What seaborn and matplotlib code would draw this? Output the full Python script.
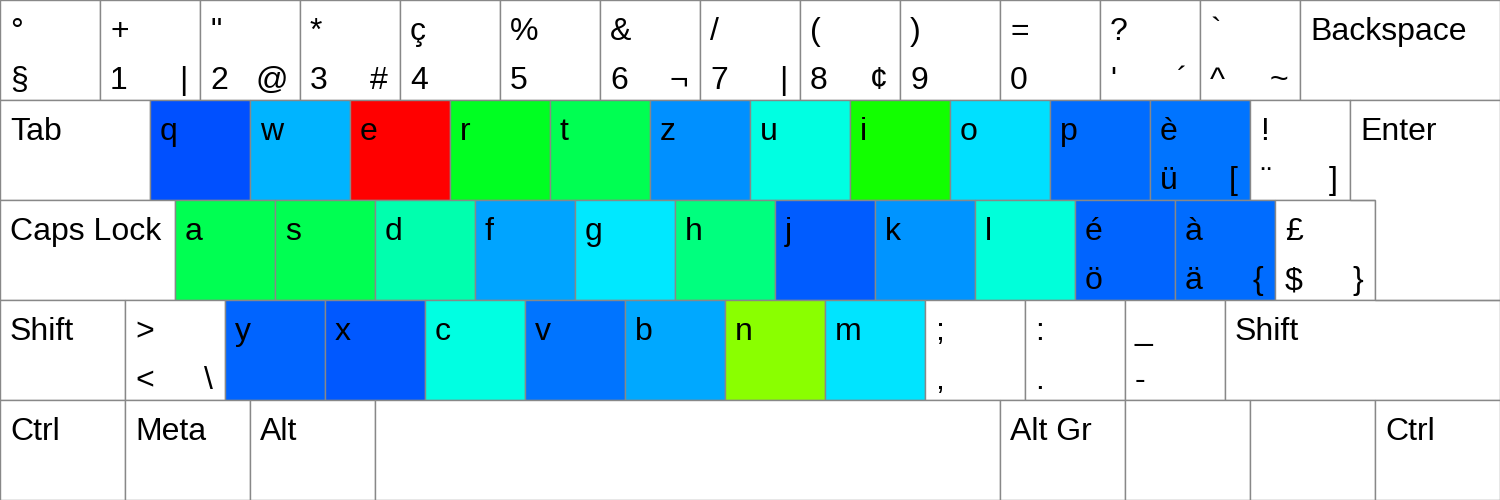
import numpy as np
import matplotlib
matplotlib.use("Agg")
import matplotlib.pyplot as plt
from matplotlib.colors import ListedColormap, Normalize, hsv_to_rgb
import seaborn as sns

# ---------------- data ----------------
# key widths per row (1 unit = one standard key)
row0_widths = [1] * 13 + [2]
row1_widths = [1.5] + [1] * 12 + [1.5]
row2_widths = [1.75] + [1] * 12 + [1.25]
row3_widths = [1.25] + [1] * 11 + [2.75]
row4_widths = [1.25, 1.25, 1.25, 6.25, 1.25, 1.25, 1.25, 1.25]

row0_top = ["°", "+", "\"", "*", "ç", "%", "&", "/", "(", ")", "=", "?", "`", "Backspace"]
row0_bl = ["§", "1", "2", "3", "4", "5", "6", "7", "8", "9", "0", "'", "^", ""]
row0_br = ["", "|", "@", "#", "", "", "¬", "|", "¢", "", "", "´", "~", ""]

row1_top = ["Tab", "q", "w", "e", "r", "t", "z", "u", "i", "o", "p", "è", "!", "Enter"]
row1_bl = [""] * 11 + ["ü", "¨", ""]
row1_br = [""] * 11 + ["[", "]", ""]

row2_top = ["Caps Lock", "a", "s", "d", "f", "g", "h", "j", "k", "l", "é", "à", "£", ""]
row2_bl = [""] * 10 + ["ö", "ä", "$", ""]
row2_br = [""] * 11 + ["{", "}", ""]

row3_top = ["Shift", ">", "y", "x", "c", "v", "b", "n", "m", ";", ":", "_", "Shift"]
row3_bl = ["", "<", "", "", "", "", "", "", "", ",", ".", "-", ""]
row3_br = ["", "\\"] + [""] * 11

row4_top = ["Ctrl", "Meta", "Alt", "", "Alt Gr", "", "", "Ctrl"]
row4_bl = [""] * 8
row4_br = [""] * 8

# relative letter frequency score (0 = rare/blue ... 1 = most frequent/red)
letters = ["q", "w", "e", "r", "t", "z", "u", "i", "o", "p", "è",
           "a", "s", "d", "f", "g", "h", "j", "k", "l", "é", "à",
           "y", "x", "c", "v", "b", "n", "m"]
scores = [0.079, 0.179, 1.0, 0.467, 0.421, 0.142, 0.279, 0.517, 0.221, 0.108, 0.117,
          0.421, 0.421, 0.329, 0.163, 0.229, 0.375, 0.092, 0.146, 0.288, 0.100, 0.108,
          0.100, 0.088, 0.279, 0.117, 0.167, 0.633, 0.225]

# ---------------- style ----------------
sns.set_theme(style="white")
plt.rcParams['font.family'] = ['Liberation Sans', 'DejaVu Sans']

hues = np.linspace(240, 0, 256) / 360.0
cmap = ListedColormap(hsv_to_rgb(np.stack([hues, np.ones(256), np.ones(256)], axis=1)))
norm = Normalize(0, 1)
score_of = dict(zip(letters, scores))

EDGE = "#888888"
LW = 1.0
FS = 23

fig = plt.figure(figsize=(15, 5), dpi=100)
ax = fig.add_axes([0, 0, 1, 1])
ax.set_xlim(0, 15)
ax.set_ylim(4.5, -0.5)
ax.axis("off")

rows = [
    (row0_widths, row0_top, row0_bl, row0_br),
    (row1_widths, row1_top, row1_bl, row1_br),
    (row2_widths, row2_top, row2_bl, row2_br),
    (row3_widths, row3_top, row3_bl, row3_br),
    (row4_widths, row4_top, row4_bl, row4_br),
]

enter_parts = []
for r, (widths, tops, bls, brs) in enumerate(rows):
    widths = np.asarray(widths, dtype=float)
    lefts = np.concatenate([[0], np.cumsum(widths)[:-1]])
    colors = [cmap(norm(score_of[t])) if t in score_of else "white" for t in tops]
    # Enter key is L-shaped: its parts are filled without edges, outlined later
    is_enter = [(r == 1 and t == "Enter") or (r == 2 and i == len(tops) - 1)
                for i, t in enumerate(tops)]
    edges = ["none" if e else EDGE for e in is_enter]
    ax.barh([r] * len(widths), widths, left=lefts, height=1.0, color=colors,
            edgecolor=edges, linewidth=LW)
    for i, e in enumerate(is_enter):
        if e:
            enter_parts.append((lefts[i], lefts[i] + widths[i], r))
    for i in range(len(widths)):
        top_y = r - 0.5 + 0.40
        bot_y = r - 0.5 + 0.89
        if tops[i]:
            ax.text(lefts[i] + 0.10, top_y, tops[i], fontsize=FS, ha="left", va="baseline",
                    color="black")
        if bls[i]:
            ax.text(lefts[i] + 0.10, bot_y, bls[i], fontsize=FS, ha="left", va="baseline",
                    color="black")
        if brs[i]:
            ax.text(lefts[i] + widths[i] - 0.12, bot_y, brs[i], fontsize=FS, ha="right",
                    va="baseline", color="black")

# outline of the L-shaped Enter key, from its two parts
(a0, a1, ra), (b0, b1, rb) = enter_parts
ex = [a0, a1, b1, b0, b0, a0, a0]
ey = [ra - 0.5, ra - 0.5, rb + 0.5, rb + 0.5, ra + 0.5, ra + 0.5, ra - 0.5]
ax.plot(ex, ey, color=EDGE, linewidth=LW, solid_joinstyle="miter")

fig.savefig("out.png", dpi=100)
